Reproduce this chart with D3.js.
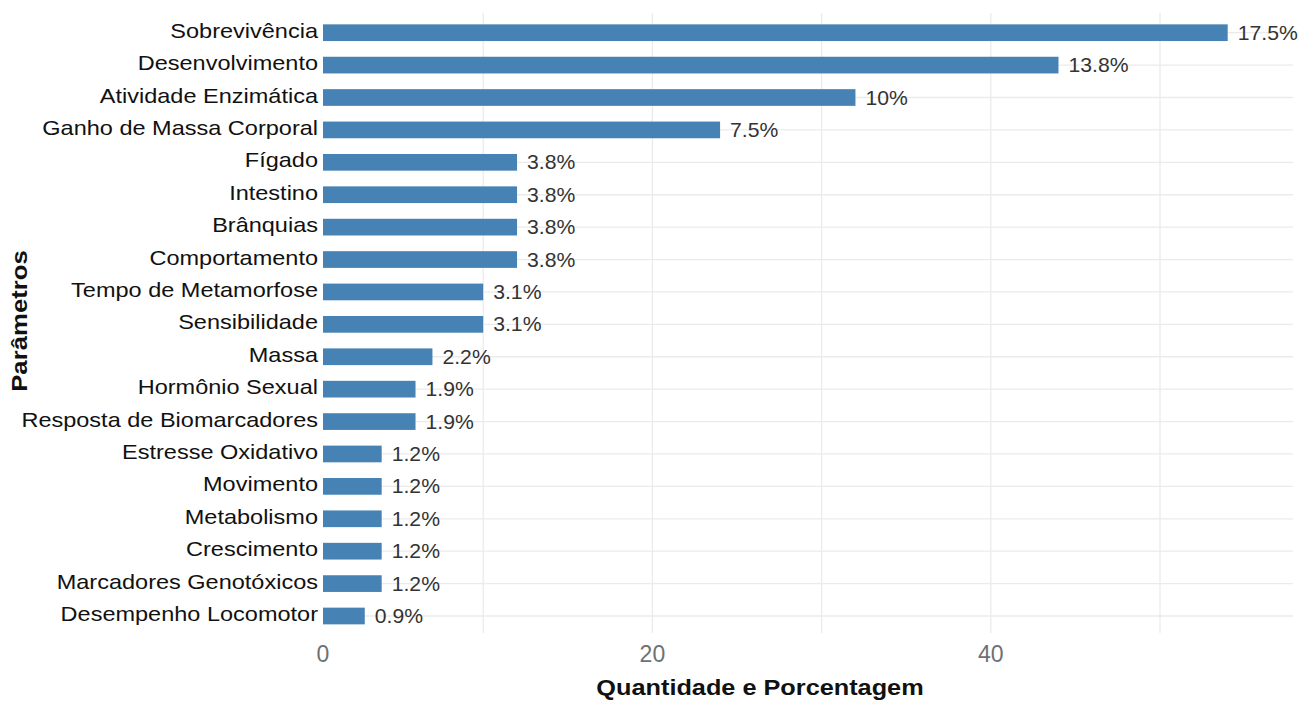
<!DOCTYPE html>
<html>
<head>
<meta charset="utf-8">
<script src="https://cdn.jsdelivr.net/npm/d3@7"></script>
<style>
  body { margin: 0; background: #fff; }
  svg { font-family: "Liberation Sans", Arial, sans-serif; }
</style>
</head>
<body>
<div id="chart"></div>
<script>
let categories = ["Sobrevivência", "Desenvolvimento", "Atividade Enzimática", "Ganho de Massa Corporal",
    "Fígado", "Intestino", "Brânquias", "Comportamento", "Tempo de Metamorfose", "Sensibilidade",
    "Massa", "Hormônio Sexual", "Resposta de Biomarcadores", "Estresse Oxidativo", "Movimento",
    "Metabolismo", "Crescimento", "Marcadores Genotóxicos", "Desempenho Locomotor"];
let counts = [54, 44, 32, 24, 12, 12, 12, 12, 10, 10, 7, 6, 6, 4, 4, 4, 4, 4, 3];
let percentLabels = ["17.5%", "13.8%", "10%", "7.5%", "3.8%", "3.8%", "3.8%", "3.8%", "3.1%", "3.1%",
    "2.2%", "1.9%", "1.9%", "1.2%", "1.2%", "1.2%", "1.2%", "1.2%", "0.9%"];
let gridValues = [10, 20, 30, 40, 50];
let tickValues = [0, 20, 40];

let width = 1312, height = 702;
let svg = d3.select("#chart").append("svg").attr("width", width).attr("height", height);

let x = d3.scaleLinear().domain([0, 57.86]).range([314, 1293]);
let y = d3.scalePoint().domain(categories).range([32.7, 616]);
let barHeight = 16.7;
let barInset = 9; // labels in the original cover the first few px of each bar
let panelTop = 13, panelBottom = 633;
let stretch = 1.12; // the original text is drawn a bit wide

//Gridlines
let grid = svg.append("g");
grid.selectAll(".hgrid").data(categories).enter().append("line")
    .attr("x1", x(0) + barInset).attr("x2", x.range()[1])
    .attr("y1", d => y(d)).attr("y2", d => y(d))
    .attr("stroke", "#ebebeb").attr("stroke-width", 1.3);
grid.selectAll(".vgrid").data(gridValues).enter().append("line")
    .attr("x1", d => x(d)).attr("x2", d => x(d))
    .attr("y1", panelTop).attr("y2", panelBottom)
    .attr("stroke", "#ebebeb").attr("stroke-width", 1.3);

//Bars
let rows = categories.map((c, i) => ({name: c, value: counts[i], label: percentLabels[i]}));
svg.append("g").selectAll("rect").data(rows).enter().append("rect")
    .attr("x", x(0) + barInset)
    .attr("y", d => y(d.name) - barHeight / 2)
    .attr("width", d => x(d.value) - x(0) - barInset)
    .attr("height", barHeight)
    .attr("fill", "steelblue");

//Value labels
svg.append("g").selectAll("text").data(rows).enter().append("text")
    .attr("transform", d => `translate(${x(d.value) + 10}, ${y(d.name) + 7}) scale(1.06, 1)`)
    .attr("fill", "#333")
    .attr("style", "font-size: 20px")
    .text(d => d.label);

//Category labels
svg.append("g").selectAll("text").data(rows).enter().append("text")
    .attr("transform", d => `translate(318, ${y(d.name) + 5}) scale(${stretch}, 1)`)
    .attr("text-anchor", "end")
    .attr("fill", "#111")
    .attr("style", "font-size: 21px")
    .text(d => d.name);

//X tick labels
svg.append("g").selectAll("text").data(tickValues).enter().append("text")
    .attr("x", d => d === 0 ? x(d) + barInset : x(d))
    .attr("y", 662)
    .attr("text-anchor", "middle")
    .attr("fill", "#707070")
    .attr("style", "font-size: 23px")
    .text(d => d);

//Axis titles
svg.append("text").attr("transform", "translate(760, 695) scale(1.15, 1)").attr("text-anchor", "middle")
    .attr("style", "font-size: 22px; font-weight: bold").attr("fill", "#111")
    .text("Quantidade e Porcentagem");
svg.append("text").attr("transform", "translate(27, 321) rotate(-90) scale(1.17, 1)").attr("text-anchor", "middle")
    .attr("style", "font-size: 22px; font-weight: bold").attr("fill", "#111")
    .text("Parâmetros");
</script>
</body>
</html>
